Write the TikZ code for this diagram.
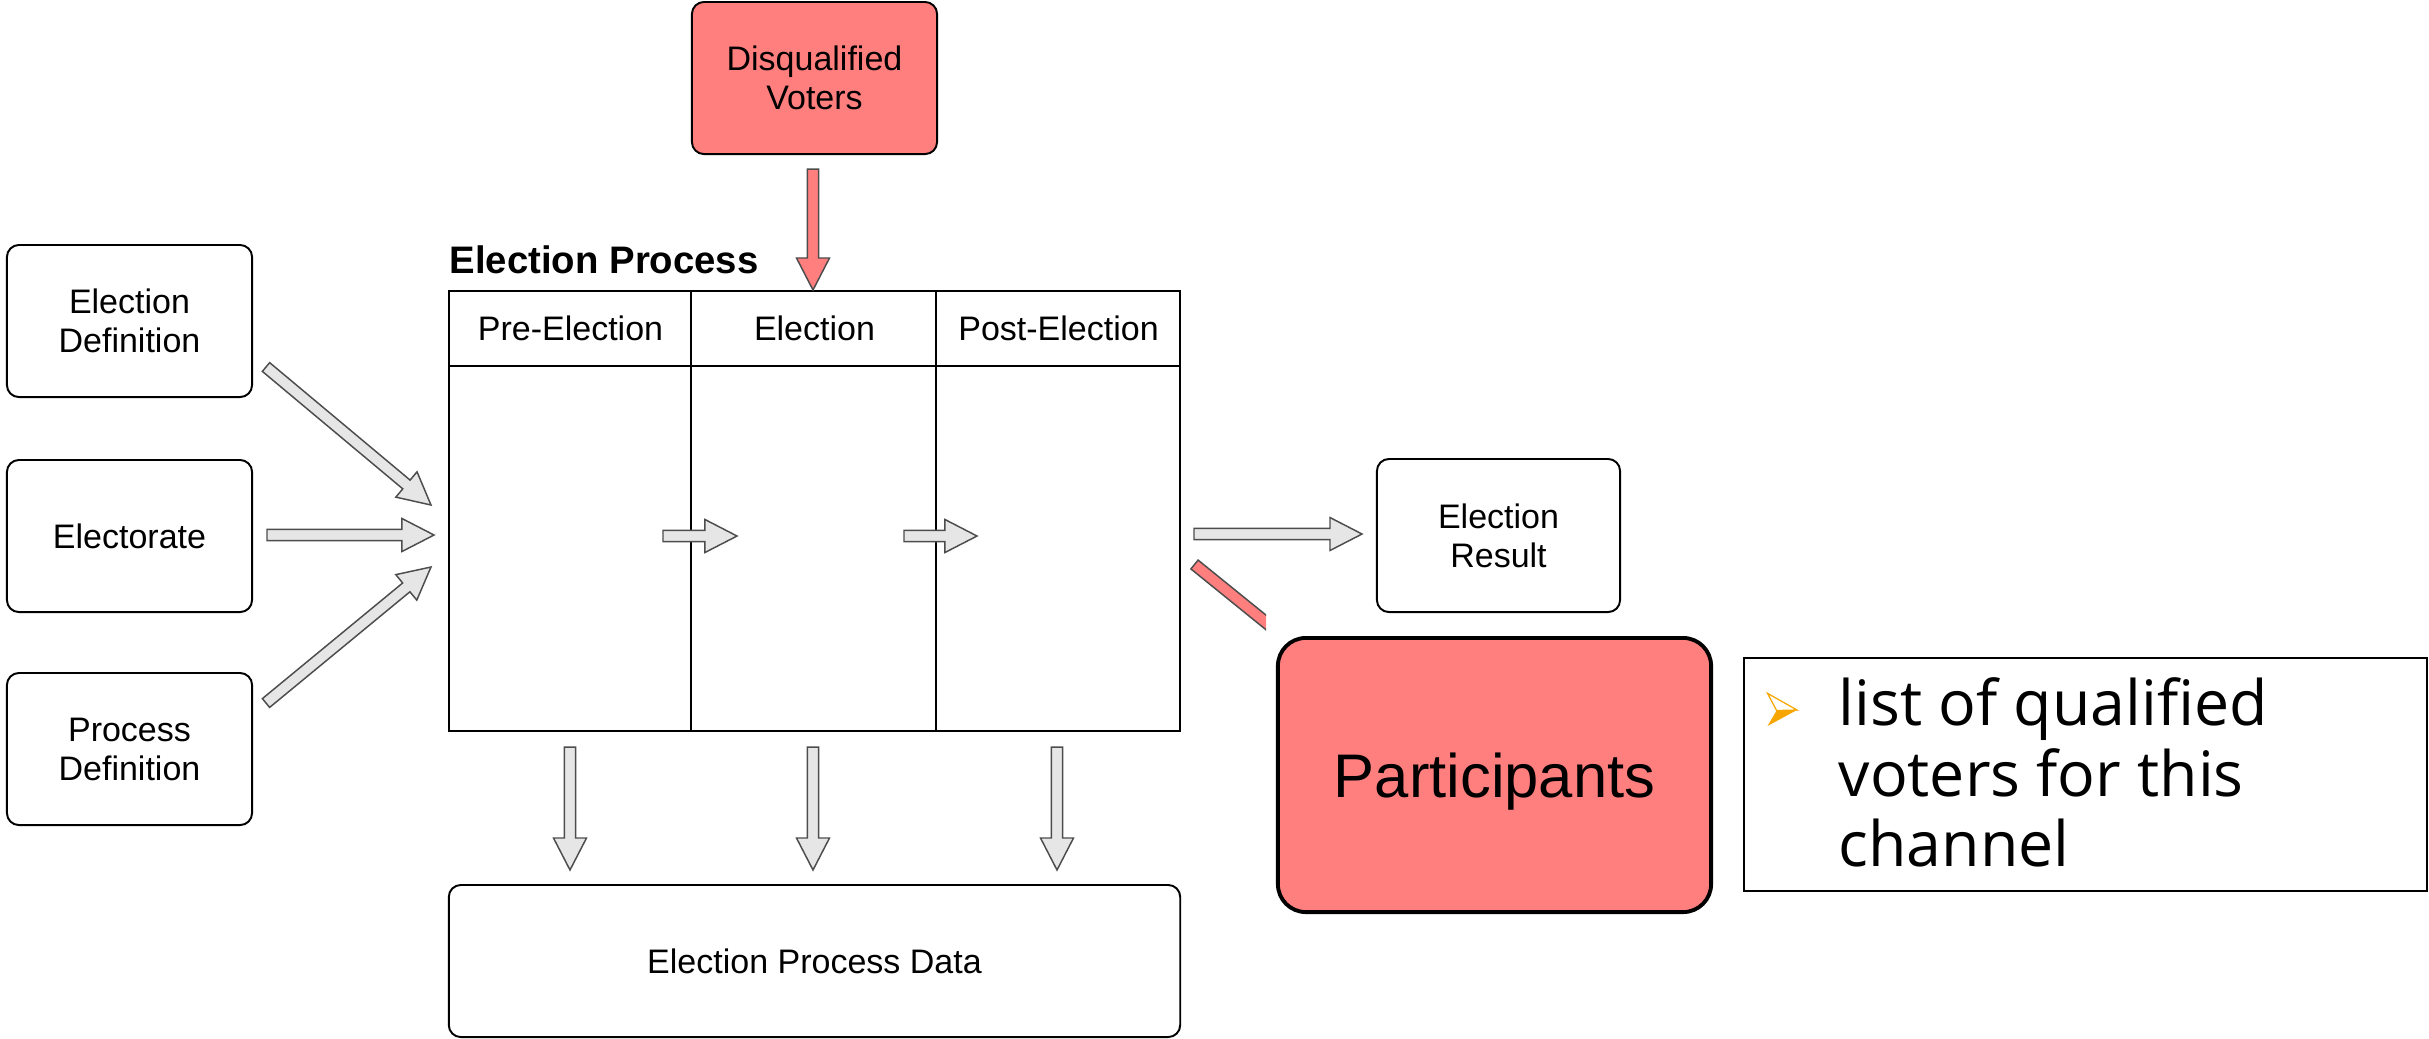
\documentclass[tikz,border=0pt]{standalone}
\usepackage{fontspec}
\setmainfont{Liberation Sans}
\newfontfamily\listfont{Open Sans}
\usetikzlibrary{calc}
\definecolor{redfill}{HTML}{FF7F7F}
\definecolor{arrowfill}{HTML}{E6E6E6}
\definecolor{arrowline}{HTML}{4D4D4D}
\definecolor{bulletorange}{HTML}{F7A600}
\tikzset{
  box/.style={draw=black, line width=0.55pt, rounded corners=0.12cm, minimum width=2.45cm,
    minimum height=1.52cm, align=center, inner sep=0pt, font=\fontsize{9.67}{11.1}\selectfont},
  redbox/.style={box, fill=redfill},
  grayarrow/.style={fill=arrowfill, draw=arrowline, line width=0.42pt, line join=miter},
  redarrow/.style={fill=redfill, draw=arrowline, line width=0.42pt, line join=miter},
  lbl/.style={anchor=base, inner sep=0pt, font=\fontsize{9.67}{11.1}\selectfont},
}
\newcommand{\blockarrow}[3][grayarrow]{%
  \coordinate (bah) at ($(#3)!0.32cm!(#2)$);
  \filldraw[#1] ($(#2)!0.057cm!90:(#3)$) -- ($(bah)!0.057cm!270:(#2)$) -- ($(bah)!0.165cm!270:(#2)$)
    -- (#3) -- ($(bah)!0.165cm!90:(#2)$) -- ($(bah)!0.057cm!90:(#2)$) -- ($(#2)!0.057cm!270:(#3)$) -- cycle;
}
\begin{document}
\begin{tikzpicture}[x=0.01cm,y=-0.01cm]
\useasboundingbox (0,0) rectangle (2429,1038);

% input boxes
\node[redbox] (dq) at (814.5,78) {Disqualified\\Voters};
\node[box] (ed) at (129.5,321) {Election\\Definition};
\node[box] (el) at (129.5,536) {Electorate};
\node[box] (pd) at (129.5,749) {Process\\Definition};
\node[box, minimum width=2.43cm, minimum height=1.53cm] (res) at (1498.5,535.5) {Election\\Result};
\node[box, minimum width=7.31cm] (data) at (814.5,961) {Election Process Data};

% election process frame
\node[anchor=base west, inner sep=0pt, font=\bfseries\fontsize{10.9}{13}\selectfont] (title) at (449,273) {Election Process};
\node[draw=black, line width=0.55pt, minimum width=7.31cm, minimum height=4.40cm, inner sep=0pt] (proc) at (814.5,511) {};
\draw[line width=0.55pt] ($(proc.north west)+(0,76)$) -- ($(proc.north east)+(0,76)$);
\draw[line width=0.55pt] ($(proc.north west)+(243,0)$) -- ($(proc.south west)+(243,0)$);
\draw[line width=0.55pt] ($(proc.north west)+(488,0)$) -- ($(proc.south west)+(488,0)$);
\node[lbl] (h1) at (570.5,340) {Pre-Election};
\node[lbl] (h2) at (814.5,340) {Election};
\node[lbl] (h3) at (1058.5,340) {Post-Election};

% participants and note
\node[draw=black, line width=1.1pt, fill=redfill, rounded corners=0.28cm, minimum width=4.33cm,
  minimum height=2.74cm, inner sep=0pt, text depth=0pt, font=\fontsize{17.5}{21}\selectfont] (part) at (1494.5,775) {Participants};
\node[draw=black, line width=0.7pt, minimum width=6.83cm, minimum height=2.33cm, inner sep=0pt] (tb) at (2085.5,774.5) {};
\node[anchor=west, inner sep=0pt, align=left, font=\listfont\fontsize{17.8}{20.06}\selectfont] (list) at (1838,772.7) {list of qualified\\voters for this\\channel};
\fill[bulletorange] (1776.6,710.5) -- (1797,710) -- (1767.5,726) -- cycle;
\draw[bulletorange, fill=white, line width=0.35pt, line join=miter] (1767.5,693.3) -- (1797,710) -- (1776.6,710.5) -- cycle;

% connector coordinates
\coordinate (a1s) at (266,367);  \coordinate (a1e) at (431,505);
\coordinate (a2s) at (267,535);  \coordinate (a2e) at (434,535);
\coordinate (a3s) at (266,703);  \coordinate (a3e) at (431,567);
\coordinate (a4s) at (663,536);  \coordinate (a4e) at (737,536);
\coordinate (a5s) at (904,536);  \coordinate (a5e) at (977,536);
\coordinate (a6s) at (1194,534); \coordinate (a6e) at (1362,534);
\coordinate (b1s) at (570,747);  \coordinate (b1e) at (570,870);
\coordinate (b2s) at (813,747);  \coordinate (b2e) at (813,870);
\coordinate (b3s) at (1057,747); \coordinate (b3e) at (1057,870);
\coordinate (rds) at (813,169);  \coordinate (rde) at (813,290);
\coordinate (rbs) at (1194.5,564.5); \coordinate (rbe) at (1295.5,646.3);

\blockarrow{a1s}{a1e}
\blockarrow{a2s}{a2e}
\blockarrow{a3s}{a3e}
\blockarrow{a4s}{a4e}
\blockarrow{a5s}{a5e}
\blockarrow{a6s}{a6e}
\blockarrow{b1s}{b1e}
\blockarrow{b2s}{b2e}
\blockarrow{b3s}{b3e}
\blockarrow[redarrow]{rds}{rde}

\begin{scope}
\clip (1150,520) rectangle (1266,660);
\filldraw[redarrow] ($(rbs)!0.057cm!90:(rbe)$) -- ($(rbe)!0.057cm!270:(rbs)$) -- ($(rbe)!0.057cm!90:(rbs)$) -- ($(rbs)!0.057cm!270:(rbe)$) -- cycle;
\end{scope}
\end{tikzpicture}
\end{document}
